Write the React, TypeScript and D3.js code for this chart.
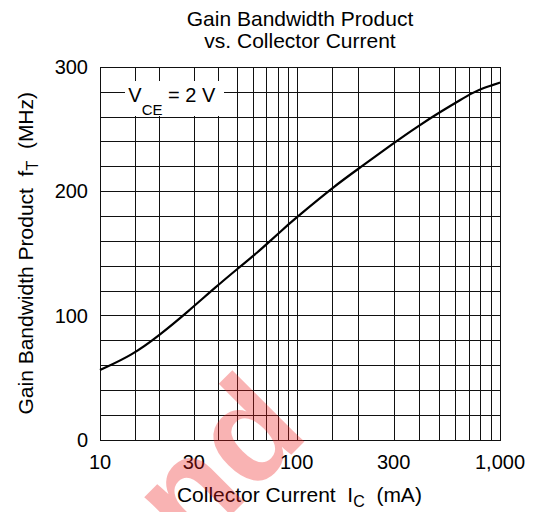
import React from "react";
import * as d3 from "d3";

// ---- data ----
const currentMA = [10, 14.6, 19.9, 28.3, 38.6, 50.9, 63.6, 73.4, 82.9, 91.7, 100, 154, 208, 293, 396, 518, 643, 739, 828, 921, 1000];
const fTMHz = [56, 68, 83.5, 103.6, 122.6, 138.5, 151, 160, 167.5, 173.8, 179, 204.4, 219.7, 237.6, 252.5, 264.6, 273.8, 279.5, 283.1, 285.5, 287.5];

const xGridValues = [10, 15, 20, 30, 40, 50, 60, 70, 80, 90, 100, 150, 200, 300, 400, 500, 600, 700, 800, 900, 1000];
const xTickValues = [10, 30, 100, 300, 1000];
const xTickLabels = ["10", "30", "100", "300", "1,000"];
const yGridValues = d3.range(0, 301, 20);
const yTickValues = [0, 100, 200, 300];
const yTickLabels = ["0", "100", "200", "300"];

const titleLines = ["Gain Bandwidth Product", "vs. Collector Current"];

const FONT = "'Liberation Sans', Arial, Helvetica, sans-serif";

export default function App() {
  const W = 542;
  const H = 512;
  const left = 100, right = 500, top = 67, bottom = 439.5;

  const x = d3.scaleLog().domain([10, 100, 1000]).range([left, 296.7, right]);
  const y = d3.scaleLinear().domain([0, 300]).range([bottom, top]);

  const pts = currentMA.map((c, i) => [c, fTMHz[i]] as [number, number]);
  const line = d3
    .line<[number, number]>()
    .x((d) => x(d[0]))
    .y((d) => y(d[1]))
    .curve(d3.curveBasis);

  const crisp = (v: number) => Math.round(v) + 0.5;

  return (
    <svg
      width={W}
      height={H}
      style={{ position: "absolute", left: 0, top: 0, background: "#fff" }}
      fontFamily={FONT}
    >
      <rect x={0} y={0} width={W} height={H} fill="#fff" />
      {/* title */}
      {titleLines.map((t, i) => (
        <text key={i} x={300} y={25.7 + i * 22} textAnchor="middle" fontSize={21} fill="#000">
          {t}
        </text>
      ))}

      {/* grid */}
      <g stroke="#111" strokeWidth={1} shapeRendering="crispEdges">
        {yGridValues.map((v) => (
          <line key={"h" + v} x1={left} x2={right} y1={crisp(y(v))} y2={crisp(y(v))} />
        ))}
        {xGridValues.map((v) => (
          <line key={"v" + v} x1={crisp(x(v))} x2={crisp(x(v))} y1={top} y2={bottom} />
        ))}
        <rect x={crisp(left)} y={crisp(top)} width={Math.round(right - left)} height={Math.round(bottom - top)} fill="none" />
      </g>

      {/* V_CE label box */}
      <rect x={125} y={81} width={99} height={35} fill="#fff" />
      <text x={128.3} y={102} fontSize={20} fill="#000" style={{ whiteSpace: "pre" }}>
        V
        <tspan fontSize={15} dy={13}>CE</tspan>
        <tspan dy={-13}>{" = 2 V"}</tspan>
      </text>

      {/* curve */}
      <path d={line(pts) || ""} fill="none" stroke="#000" strokeWidth={2.2} />

      {/* y ticks */}
      {yTickValues.map((v, i) => (
        <text key={"yt" + v} x={88} y={y(v)} dy="0.36em" textAnchor="end" fontSize={20} fill="#000">
          {yTickLabels[i]}
        </text>
      ))}
      {/* x ticks */}
      {xTickValues.map((v, i) => (
        <text key={"xt" + v} x={x(v)} y={469.3} textAnchor="middle" fontSize={20} fill="#000">
          {xTickLabels[i]}
        </text>
      ))}

      {/* axis titles */}
      <text x={299.4} y={501.7} textAnchor="middle" fontSize={21} fill="#000" style={{ whiteSpace: "pre" }}>
        {"Collector Current  I"}
        <tspan fontSize={16} dy={5}>C</tspan>
        <tspan dy={-5}>{"  (mA)"}</tspan>
      </text>
      <text
        transform={`translate(32.7,${(top + bottom) / 2}) rotate(-90)`}
        textAnchor="middle"
        fontSize={21}
        fill="#000"
        style={{ whiteSpace: "pre" }}
      >
        {"Gain Bandwidth Product  f"}
        <tspan fontSize={16} dy={5}>T</tspan>
        <tspan dy={-5}>{"  (MHz)"}</tspan>
      </text>

      {/* watermark */}
      <text
        transform="translate(190,556) rotate(-45)"
        fontSize={140}
        fontWeight="bold"
        fill="#ee1c1c"
        opacity={0.33}
      >
        nd
      </text>
    </svg>
  );
}
